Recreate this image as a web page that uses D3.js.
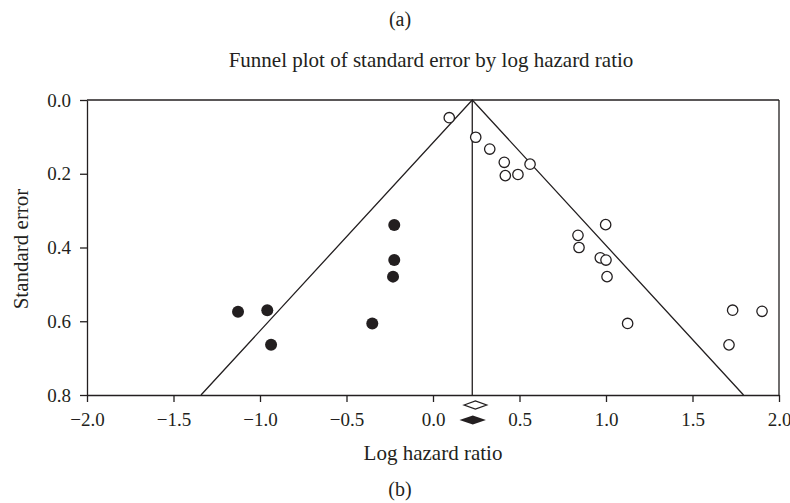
<!DOCTYPE html>
<html>
<head>
<meta charset="utf-8">
<script src="https://cdn.jsdelivr.net/npm/d3@7"></script>
<style>
  body { margin: 0; background: #fff; }
  text { font-family: "Liberation Serif", "Times New Roman", serif; fill: #231f20; }
</style>
</head>
<body>
<div id="chart"></div>
<script>
// observed studies (open circles)
const obsLogHR = [0.094, 0.247, 0.328, 0.412, 0.418, 0.491, 0.561, 0.998, 0.838, 0.844, 0.967, 1.000, 1.006, 1.125, 1.732, 1.902, 1.711];
const obsSE    = [0.048, 0.101, 0.133, 0.169, 0.205, 0.202, 0.174, 0.338, 0.367, 0.400, 0.428, 0.434, 0.479, 0.606, 0.570, 0.573, 0.664];

// imputed studies (filled circles)
const impLogHR = [-1.127, -0.958, -0.936, -0.351, -0.231, -0.224, -0.224];
const impSE    = [0.574, 0.570, 0.664, 0.606, 0.479, 0.339, 0.434];

// funnel centre and pooled estimates [low, point, high]
const funnelCenter = 0.227;
const observedDiamond = [0.18, 0.245, 0.31];
const adjustedDiamond = [0.153, 0.23, 0.306];

const xTicks = [-2.0, -1.5, -1.0, -0.5, 0.0, 0.5, 1.0, 1.5, 2.0];
const yTicks = [0.0, 0.2, 0.4, 0.6, 0.8];

const W = 790, H = 503;
const margin = { top: 100, right: 11, bottom: 108, left: 87 };

const svg = d3.select("#chart")
  .append("svg")
  .attr("width", W)
  .attr("height", H);

const x = d3.scaleLinear().domain([-2, 2]).range([margin.left, W - margin.right]);
const y = d3.scaleLinear().domain([0, 0.8]).range([margin.top, H - margin.bottom]);

const ink = "#231f20";
const fmt = d => (d < 0 ? "\u2212" : "") + Math.abs(d).toFixed(1);

// axes
const xAxis = d3.axisBottom(x).tickValues(xTicks).tickFormat(fmt).tickSize(7).tickSizeOuter(0);
const yAxis = d3.axisLeft(y).tickValues(yTicks).tickFormat(fmt).tickSize(7).tickSizeOuter(0);

const gx = svg.append("g")
  .attr("transform", `translate(0,${y(0.8)})`)
  .call(xAxis);
const gy = svg.append("g")
  .attr("transform", `translate(${x(-2)},0)`)
  .call(yAxis);

[gx, gy].forEach(g => {
  g.selectAll("path, line").attr("stroke", ink).attr("stroke-width", 1.3);
  g.selectAll("text").style("font-family", '"Liberation Serif", serif').style("font-size", "19px").attr("fill", ink);
});
gx.selectAll("text").attr("dy", null).attr("y", 31);
gy.selectAll("text").attr("x", -16).attr("dy", "0.32em");

// top and right frame
svg.append("line")
  .attr("x1", x(-2)).attr("x2", x(2)).attr("y1", y(0)).attr("y2", y(0))
  .attr("stroke", ink).attr("stroke-width", 1.3);
svg.append("line")
  .attr("x1", x(2)).attr("x2", x(2)).attr("y1", y(0)).attr("y2", y(0.8))
  .attr("stroke", ink).attr("stroke-width", 1.3);

// funnel lines
const seMax = 0.8;
const funnel = [
  [[funnelCenter - 1.96 * seMax, seMax], [funnelCenter, 0], [funnelCenter + 1.96 * seMax, seMax]],
  [[funnelCenter, 0], [funnelCenter, seMax]]
];
const line = d3.line().x(d => x(d[0])).y(d => y(d[1]));
svg.selectAll(".funnel")
  .data(funnel)
  .enter()
  .append("path")
  .attr("class", "funnel")
  .attr("d", line)
  .attr("fill", "none")
  .attr("stroke", ink)
  .attr("stroke-width", 1.3);

// observed points
svg.selectAll(".obs")
  .data(obsLogHR.map((v, i) => ({ x: v, se: obsSE[i] })))
  .enter()
  .append("circle")
  .attr("class", "obs")
  .attr("cx", d => x(d.x))
  .attr("cy", d => y(d.se))
  .attr("r", 5.2)
  .attr("fill", "#fff")
  .attr("stroke", ink)
  .attr("stroke-width", 1.3);

// imputed points
svg.selectAll(".imp")
  .data(impLogHR.map((v, i) => ({ x: v, se: impSE[i] })))
  .enter()
  .append("circle")
  .attr("class", "imp")
  .attr("cx", d => x(d.x))
  .attr("cy", d => y(d.se))
  .attr("r", 6)
  .attr("fill", ink);

// pooled diamonds below the axis
function diamond(d, cy, h) {
  return `M${x(d[0])},${cy} L${x(d[1])},${cy - h} L${x(d[2])},${cy} L${x(d[1])},${cy + h} Z`;
}
svg.append("path")
  .attr("d", diamond(observedDiamond, 405, 4))
  .attr("fill", "#fff")
  .attr("stroke", ink)
  .attr("stroke-width", 1.3);
svg.append("path")
  .attr("d", diamond(adjustedDiamond, 420, 4.5))
  .attr("fill", ink);

// titles
svg.append("text")
  .attr("x", 400).attr("y", 26)
  .attr("text-anchor", "middle")
  .style("font-size", "20px")
  .text("(a)");

svg.append("text")
  .attr("x", 431).attr("y", 67)
  .attr("text-anchor", "middle")
  .style("font-size", "21px")
  .text("Funnel plot of standard error by log hazard ratio");

svg.append("text")
  .attr("x", 433).attr("y", 460)
  .attr("text-anchor", "middle")
  .style("font-size", "21px")
  .text("Log hazard ratio");

svg.append("text")
  .attr("transform", "rotate(-90)")
  .attr("x", -249).attr("y", 28)
  .attr("text-anchor", "middle")
  .style("font-size", "21px")
  .text("Standard error");

svg.append("text")
  .attr("x", 400).attr("y", 496)
  .attr("text-anchor", "middle")
  .style("font-size", "20px")
  .text("(b)");
</script>
</body>
</html>
